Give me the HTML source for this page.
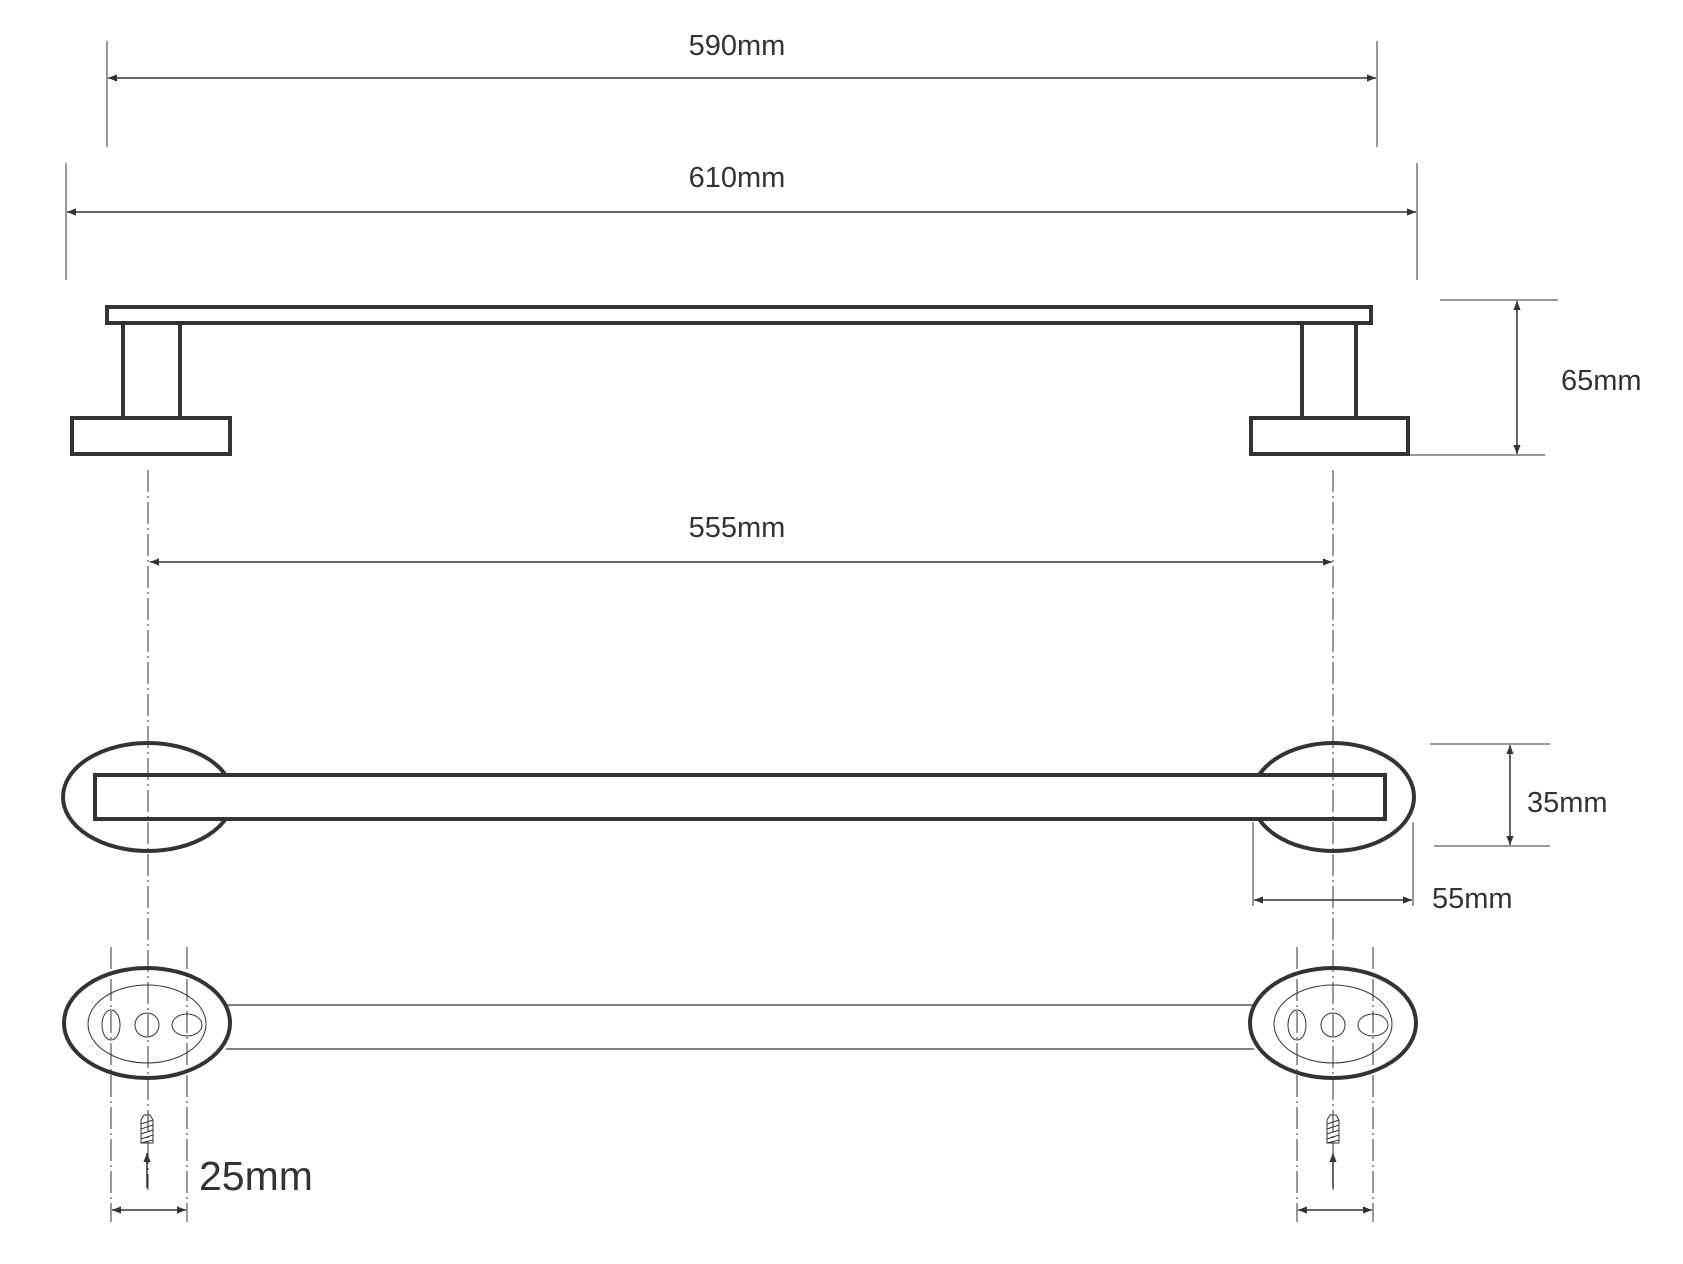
<!DOCTYPE html>
<html><head><meta charset="utf-8"><style>
html,body{margin:0;padding:0;background:#fff;}
svg{display:block;}
text{font-family:"Liberation Sans",sans-serif;fill:#333;}
</style></head><body>
<svg width="1683" height="1264" viewBox="0 0 1683 1264" xmlns="http://www.w3.org/2000/svg">
<defs>
<marker id="a" viewBox="0 0 10 10" refX="10" refY="5" markerWidth="9" markerHeight="9" orient="auto-start-reverse" markerUnits="userSpaceOnUse"><path d="M0,1 L10,5 L0,9 z" fill="#333"/></marker>
</defs>
<g stroke="#333" fill="none">
<!-- 590 -->
<line x1="107" y1="41" x2="107" y2="147" stroke-width="1"/>
<line x1="1377" y1="41" x2="1377" y2="147" stroke-width="1"/>
<line x1="108" y1="78" x2="1376" y2="78" stroke-width="1.5" marker-start="url(#a)" marker-end="url(#a)"/>
<!-- 610 -->
<line x1="66" y1="163" x2="66" y2="280" stroke-width="1"/>
<line x1="1417" y1="163" x2="1417" y2="280" stroke-width="1"/>
<line x1="67" y1="212" x2="1416" y2="212" stroke-width="1.5" marker-start="url(#a)" marker-end="url(#a)"/>
<!-- side view -->
<g stroke-width="4">
<rect x="107" y="307" width="1264" height="16"/>
<rect x="123" y="323" width="57" height="95"/>
<rect x="1302" y="323" width="54" height="95"/>
<rect x="72" y="418" width="158" height="36" fill="#fff"/>
<rect x="1251" y="418" width="157" height="36" fill="#fff"/>
</g>
<!-- 65 -->
<line x1="1440" y1="300" x2="1558" y2="300" stroke-width="1"/>
<line x1="1408" y1="455" x2="1545" y2="455" stroke-width="1"/>
<line x1="1517" y1="301" x2="1517" y2="454" stroke-width="1.5" marker-start="url(#a)" marker-end="url(#a)"/>
<!-- 555 -->
<line x1="150" y1="562" x2="1332" y2="562" stroke-width="1.5" marker-start="url(#a)" marker-end="url(#a)"/>
<!-- top view -->
<g stroke-width="4">
<ellipse cx="148" cy="797" rx="85" ry="54"/>
<ellipse cx="1333" cy="797" rx="81" ry="54"/>
<rect x="95" y="775" width="1290" height="44" fill="#fff"/>
</g>
<!-- 35 -->
<line x1="1430" y1="744" x2="1550" y2="744" stroke-width="1"/>
<line x1="1434" y1="846" x2="1550" y2="846" stroke-width="1"/>
<line x1="1510" y1="745" x2="1510" y2="845" stroke-width="1.5" marker-start="url(#a)" marker-end="url(#a)"/>
<!-- 55 -->
<line x1="1253" y1="822" x2="1253" y2="906" stroke-width="1"/>
<line x1="1413" y1="822" x2="1413" y2="906" stroke-width="1"/>
<line x1="1254" y1="900" x2="1412" y2="900" stroke-width="1.5" marker-start="url(#a)" marker-end="url(#a)"/>
<!-- bottom view -->
<line x1="226" y1="1005" x2="1254" y2="1005" stroke-width="1.2"/>
<line x1="226" y1="1049" x2="1254" y2="1049" stroke-width="1.2"/>
<g id="L">
<ellipse cx="147" cy="1023" rx="83" ry="55" stroke-width="4" fill="#fff"/>
<ellipse cx="147" cy="1024" rx="59" ry="39" stroke-width="1"/>
<ellipse cx="111" cy="1025" rx="9" ry="15" stroke-width="1"/>
<circle cx="147" cy="1025" r="12" stroke-width="1"/>
<ellipse cx="187" cy="1025" rx="15" ry="11" stroke-width="1"/>
<path d="M141,1143 V1120 L144,1115 H150 L153,1120 V1143 Z M141,1124 L153,1120 M141,1129 L153,1125 M141,1134 L153,1130 M141,1139 L153,1135 M141,1143 L153,1140" stroke-width="1"/>
<line x1="147" y1="1188" x2="147" y2="1153" stroke-width="1.5" marker-end="url(#a)"/>
<line x1="112" y1="1210" x2="186" y2="1210" stroke-width="1.5" marker-start="url(#a)" marker-end="url(#a)"/>
</g>
<use href="#L" transform="translate(1186,0)"/>
<!-- center & dashed lines -->
<g stroke-width="1" stroke-dasharray="22,4,2,4">
<line x1="148" y1="470" x2="148" y2="1190"/>
<line x1="1333" y1="470" x2="1333" y2="1190"/>
<line x1="111" y1="947" x2="111" y2="1222"/>
<line x1="187" y1="947" x2="187" y2="1222"/>
<line x1="1297" y1="947" x2="1297" y2="1222"/>
<line x1="1373" y1="947" x2="1373" y2="1222"/>
</g>
</g>
<text x="737" y="55" font-size="29" text-anchor="middle">590mm</text>
<text x="737" y="187" font-size="29" text-anchor="middle">610mm</text>
<text x="737" y="537" font-size="29" text-anchor="middle">555mm</text>
<text x="1561" y="390" font-size="29">65mm</text>
<text x="1527" y="812" font-size="29">35mm</text>
<text x="1432" y="908" font-size="29">55mm</text>
<text x="199" y="1190" font-size="41">25mm</text>
</svg>
</body></html>
